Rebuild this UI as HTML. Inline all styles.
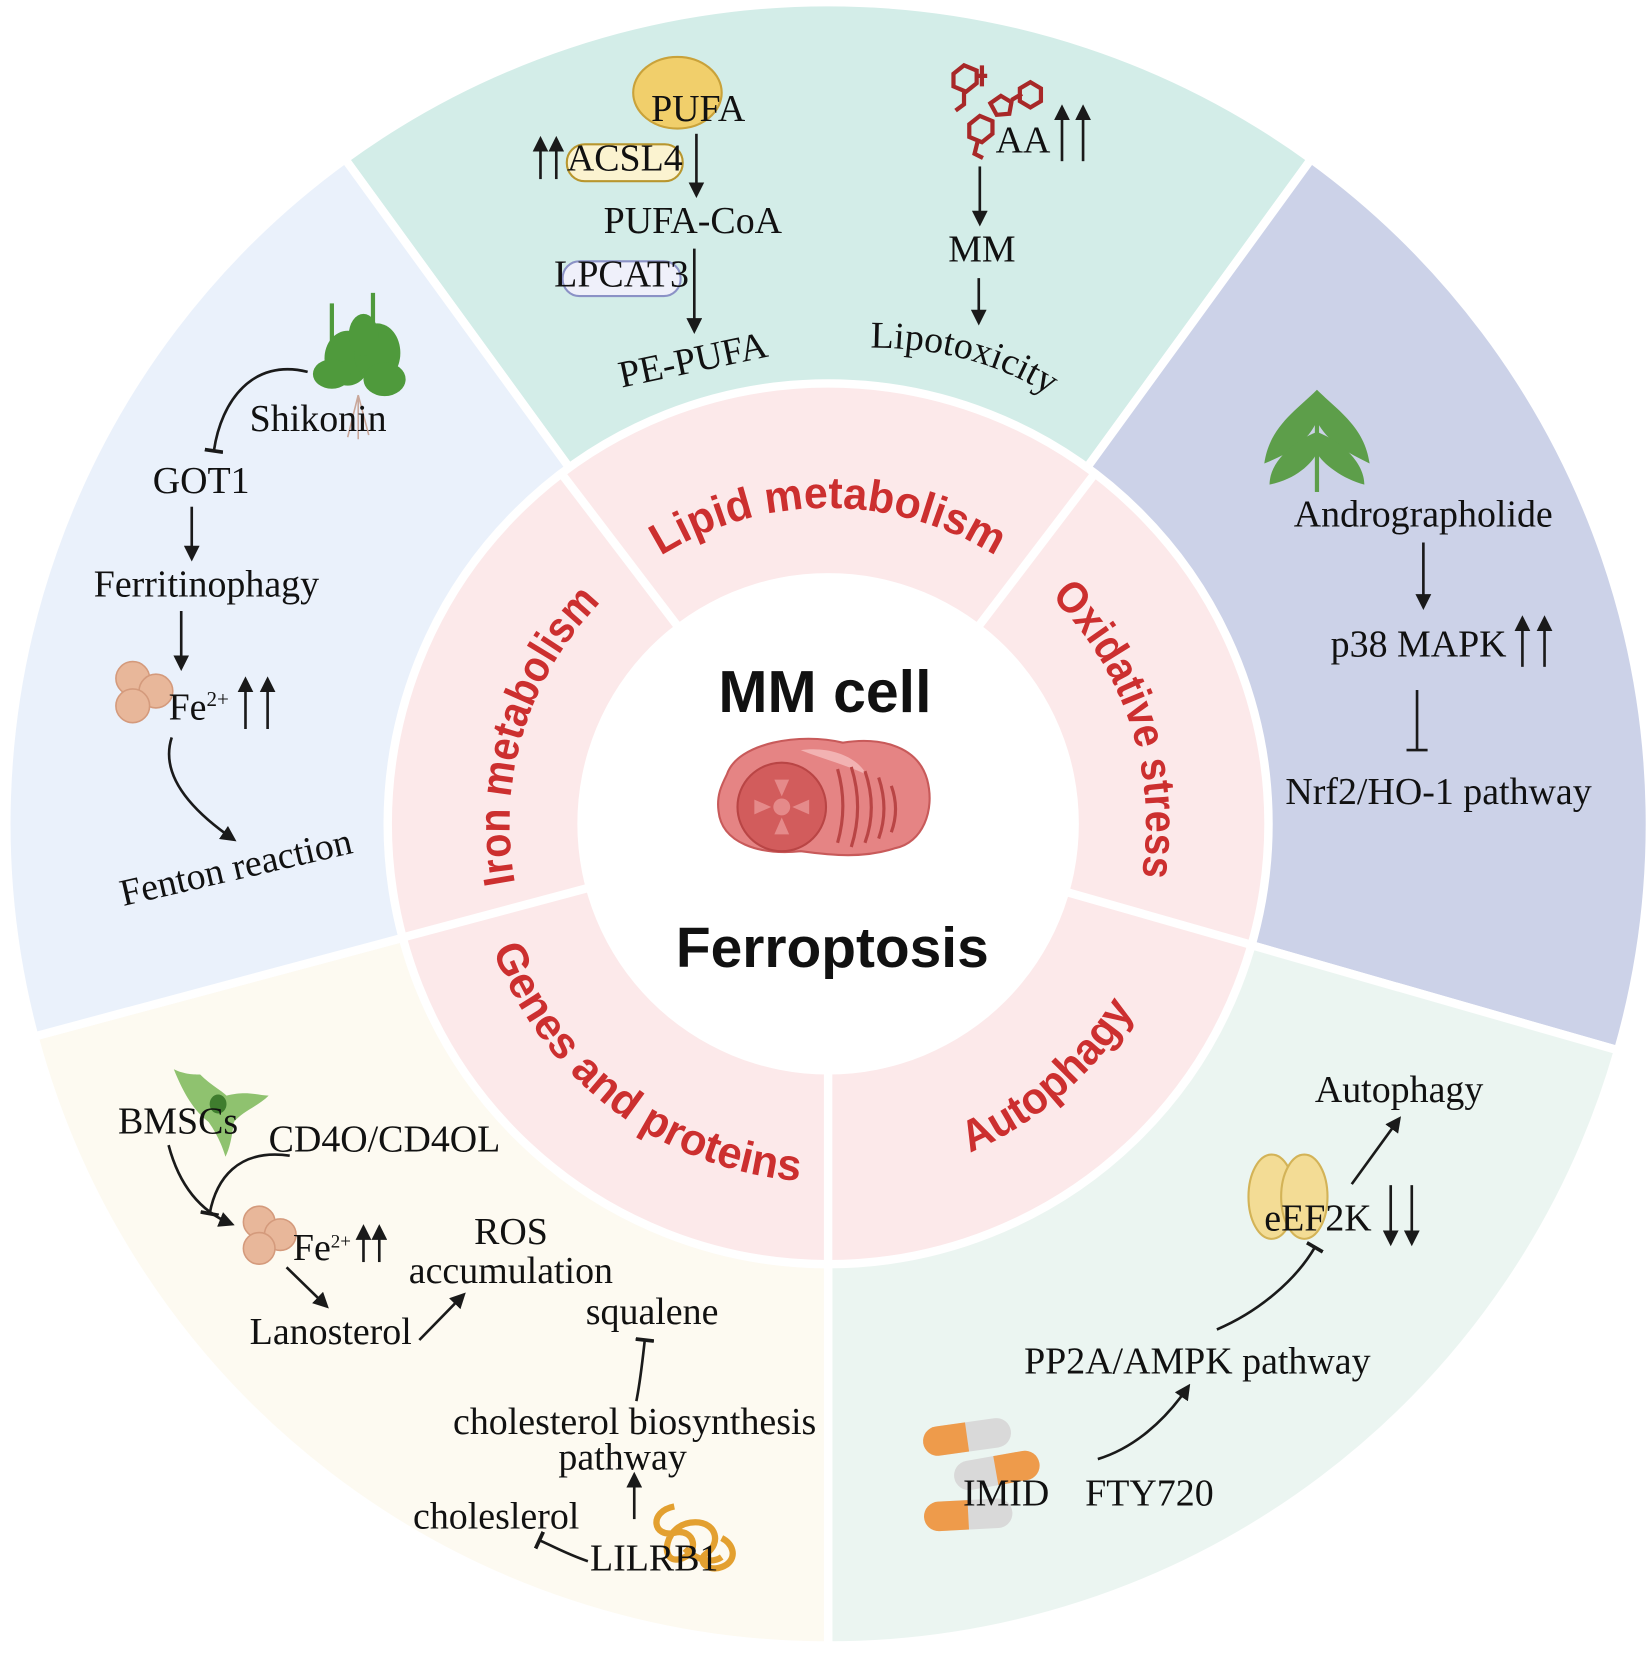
<!DOCTYPE html>
<html><head><meta charset="utf-8"><style>
html,body{margin:0;padding:0;background:#fff;}
svg{display:block;}
.t{font-family:"Liberation Serif",serif;fill:#111;font-size:36px;}
.r{font-family:"Liberation Sans",sans-serif;font-weight:bold;fill:#cc2f2f;font-size:42px;}
.c{font-family:"Liberation Sans",sans-serif;font-weight:bold;fill:#111;}
.ln{stroke:#1a1a1a;stroke-width:2.5;fill:none;}
</style></head><body>
<svg width="1652" height="1655" viewBox="0 0 1568 1571" preserveAspectRatio="none" xmlns="http://www.w3.org/2000/svg">
<defs>
<marker id="a" viewBox="0 0 10 10" refX="8" refY="5" markerWidth="6" markerHeight="6" orient="auto"><path d="M0,0 L10,5 L0,10 z" fill="#1a1a1a"/></marker>
<marker id="b" viewBox="0 0 10 10" refX="5" refY="5" markerWidth="7" markerHeight="7" orient="auto"><path d="M5,0 L5,10" stroke="#1a1a1a" stroke-width="2"/></marker>
<path id="pLipid" d="M490.6,729.9 A300,300 0 0 1 1081.4,729.9"/>
<path id="pOx" d="M744,483 A302,302 0 0 1 927.8,1048.6"/>
<path id="pIron" d="M640,1046 A300,300 0 0 1 812,484"/>
<path id="pGenes" d="M483.1,627.6 A340,340 0 0 0 1017.9,1030.7"/>
<path id="pAuto" d="M572,1046.2 A340,340 0 0 0 1077.4,606.9"/>
<path id="pLipo" d="M826,330 Q935,330 1010,385"/>
</defs>
<g stroke="#fff" stroke-width="8">
<path d="M786,782 L327.5,151 A780,780 0 0 1 1244.5,151 Z" fill="#d3ede8"/>
<path d="M786,782 L1244.5,151 A780,780 0 0 1 1535.8,997 Z" fill="#ccd2e8"/>
<path d="M786,782 L1535.8,997 A780,780 0 0 1 786,1562 Z" fill="#ebf5f1"/>
<path d="M786,782 L786,1562 A780,780 0 0 1 32.6,983.9 Z" fill="#fdfaf1"/>
<path d="M786,782 L32.6,983.9 A780,780 0 0 1 327.5,151 Z" fill="#eaf1fb"/>
</g>
<circle cx="786" cy="782" r="418" fill="#fce9ea" stroke="#fff" stroke-width="8"/>
<g stroke="#fff" stroke-width="8">
<line x1="786" y1="782" x2="531" y2="447"/>
<line x1="786" y1="782" x2="1041" y2="447"/>
<line x1="786" y1="782" x2="1188" y2="897"/>
<line x1="786" y1="782" x2="786" y2="1200"/>
<line x1="786" y1="782" x2="382" y2="890"/>
</g>
<circle cx="786" cy="782" r="238" fill="#fff"/>
<text class="r"><textPath href="#pLipid" startOffset="50%" text-anchor="middle" textLength="335" lengthAdjust="spacingAndGlyphs">Lipid metabolism</textPath></text>
<text class="r"><textPath href="#pOx" startOffset="50%" text-anchor="middle" textLength="290" lengthAdjust="spacingAndGlyphs">Oxidative stress</textPath></text>
<text class="r"><textPath href="#pIron" startOffset="50%" text-anchor="middle" textLength="290" lengthAdjust="spacingAndGlyphs">Iron metabolism</textPath></text>
<text class="r"><textPath href="#pGenes" startOffset="50%" text-anchor="middle" textLength="385" lengthAdjust="spacingAndGlyphs">Genes and proteins</textPath></text>
<text class="r"><textPath href="#pAuto" startOffset="50%" text-anchor="middle" textLength="210" lengthAdjust="spacingAndGlyphs">Autophagy</textPath></text>
<text class="c" x="783" y="676" font-size="56" text-anchor="middle">MM cell</text>
<text class="c" x="790" y="918" font-size="54" text-anchor="middle">Ferroptosis</text>
<path d="M690,735 C700,705 760,695 800,705 C830,700 870,705 880,740 C888,770 875,800 850,805 C820,815 790,812 760,808 C720,812 685,800 682,770 C680,755 685,745 690,735 Z" fill="#e58484" stroke="#c85a5a" stroke-width="2"/>
<path d="M760,712 C790,708 815,720 822,735 C800,725 780,720 760,712Z" fill="#f2b2b2"/>
<circle cx="742" cy="766" r="42" fill="#d25c5c" stroke="#b94545" stroke-width="2"/>
<g fill="#e58a8a"><circle cx="742" cy="766" r="8"/><path d="M735,740 l14,0 l-7,16z"/><path d="M735,792 l14,0 l-7,-16z"/><path d="M716,759 l0,14 l16,-7z"/><path d="M768,759 l0,14 l-16,-7z"/></g>
<g stroke="#b94545" stroke-width="3" fill="none"><path d="M795,730 q10,35 0,70"/><path d="M808,728 q12,38 0,76"/><path d="M821,732 q12,35 0,68"/><path d="M834,738 q10,30 0,58"/><path d="M846,746 q8,22 0,44"/></g>

<ellipse cx="643" cy="88" rx="42" ry="34" fill="#f1cf6b" stroke="#c9a23a" stroke-width="2"/>
<text class="t" x="618" y="115" font-size="35">PUFA</text>
<line class="ln" x1="513" y1="170" x2="513" y2="132" marker-end="url(#a)"/>
<line class="ln" x1="528" y1="170" x2="528" y2="132" marker-end="url(#a)"/>
<rect x="538" y="137" width="110" height="35" rx="17" fill="#fbf3d0" stroke="#b8962e" stroke-width="2"/>
<text class="t" x="593" y="162" font-size="21" text-anchor="middle">ACSL4</text>
<line class="ln" x1="661" y1="127" x2="661" y2="185" marker-end="url(#a)"/>
<text class="t" x="573" y="221" font-size="35">PUFA-CoA</text>
<rect x="534" y="248" width="112" height="33" rx="16" fill="#eff0fa" stroke="#8b92c6" stroke-width="2"/>
<text class="t" x="590" y="272" font-size="21" text-anchor="middle">LPCAT3</text>
<line class="ln" x1="659" y1="236" x2="659" y2="314" marker-end="url(#a)"/>
<text class="t" x="590" y="368" font-size="36" transform="rotate(-12 590 368)">PE-PUFA</text>
<g stroke="#a82828" stroke-width="4" fill="none">
<path d="M905,70 l10,-8 l12,5 l0,12 l-10,8 l-12,-5z M927,72 l10,0 M932,62 l0,20 M915,87 l0,12 l-8,6"/>
<path d="M940,98 l10,-7 l10,6 l-2,11 l-12,1z M960,95 l10,-6 M968,84 l10,-6 l10,6 l0,12 l-10,6 l-10,-6z"/>
<path d="M920,118 l10,-8 l12,5 l0,12 l-10,8 l-12,-5z M928,134 l-3,12 l8,4"/>
</g>
<text class="t" x="945" y="145" font-size="35">AA</text>
<line class="ln" x1="1008" y1="153" x2="1008" y2="102" marker-end="url(#a)"/>
<line class="ln" x1="1028" y1="153" x2="1028" y2="102" marker-end="url(#a)"/>
<line class="ln" x1="930" y1="158" x2="930" y2="212" marker-end="url(#a)"/>
<text class="t" x="900" y="248" font-size="35">MM</text>
<line class="ln" x1="929" y1="264" x2="929" y2="306" marker-end="url(#a)"/>
<text class="t" font-size="36"><textPath href="#pLipo">Lipotoxicity</textPath></text>

<g fill="#4f9a3c">
<rect x="313" y="288" width="4" height="70"/><rect x="352" y="278" width="4" height="80"/>
<ellipse cx="330" cy="340" rx="22" ry="26"/><ellipse cx="358" cy="335" rx="22" ry="28"/><ellipse cx="315" cy="355" rx="18" ry="14"/><ellipse cx="365" cy="360" rx="20" ry="16"/><ellipse cx="345" cy="318" rx="14" ry="20"/>
</g>
<path d="M340,375 l-10,40 M340,375 l0,42 M340,375 l10,38" stroke="#c9a79a" stroke-width="1.5"/>
<path class="ln" d="M292,353 C240,340 210,380 203,428" marker-end="url(#b)"/>
<text class="t" x="237" y="409" font-size="35">Shikonin</text>
<text class="t" x="145" y="468" font-size="35">GOT1</text>
<line class="ln" x1="182" y1="481" x2="182" y2="530" marker-end="url(#a)"/>
<text class="t" x="89" y="566" font-size="35">Ferritinophagy</text>
<line class="ln" x1="172" y1="580" x2="172" y2="634" marker-end="url(#a)"/>
<g fill="#e8b79a" stroke="#d49a7c" stroke-width="1.5"><circle cx="126" cy="644" r="16"/><circle cx="148" cy="656" r="16"/><circle cx="126" cy="670" r="16"/></g>
<text class="t" x="160" y="683" font-size="35">Fe<tspan font-size="20" dy="-13">2+</tspan></text>
<line class="ln" x1="233" y1="692" x2="233" y2="645" marker-end="url(#a)"/>
<line class="ln" x1="254" y1="692" x2="254" y2="645" marker-end="url(#a)"/>
<path class="ln" d="M163,700 C150,740 190,775 222,797" marker-end="url(#a)"/>
<text class="t" x="117" y="860" font-size="36" transform="rotate(-13 117 860)">Fenton reaction</text>

<g fill="#5d9e4a">
<rect x="1248" y="372" width="4" height="95"/>
<path d="M1250,370 C1230,390 1205,405 1200,440 C1225,430 1240,420 1250,400 C1260,420 1280,430 1300,440 C1295,405 1270,390 1250,370Z"/>
<path d="M1250,410 C1225,420 1205,440 1205,460 C1230,455 1245,440 1250,430 C1255,440 1275,455 1295,460 C1295,440 1275,420 1250,410Z"/>
</g>
<text class="t" x="1228" y="500" font-size="36">Andrographolide</text>
<line class="ln" x1="1351" y1="515" x2="1351" y2="576" marker-end="url(#a)"/>
<text class="t" x="1263" y="623" font-size="34">p38 MAPK</text>
<line class="ln" x1="1445" y1="633" x2="1445" y2="587" marker-end="url(#a)"/>
<line class="ln" x1="1466" y1="633" x2="1466" y2="587" marker-end="url(#a)"/>
<line class="ln" x1="1345" y1="655" x2="1345" y2="712"/>
<line class="ln" x1="1335" y1="712" x2="1355" y2="712"/>
<text class="t" x="1220" y="763" font-size="35">Nrf2/HO-1 pathway</text>

<text class="t" x="1248" y="1046" font-size="36">Autophagy</text>
<line class="ln" x1="1283" y1="1124" x2="1328" y2="1062" marker-end="url(#a)"/>
<ellipse cx="1207" cy="1136" rx="22" ry="40" fill="#f3dc95" stroke="#d3b357" stroke-width="2"/>
<ellipse cx="1238" cy="1136" rx="22" ry="40" fill="#f3dc95" stroke="#d3b357" stroke-width="2"/>
<text class="t" x="1200" y="1168" font-size="34">eEF2K</text>
<line class="ln" x1="1320" y1="1125" x2="1320" y2="1180" marker-end="url(#a)"/>
<line class="ln" x1="1340" y1="1125" x2="1340" y2="1180" marker-end="url(#a)"/>
<path class="ln" d="M1155,1262 C1195,1245 1230,1215 1248,1184" marker-end="url(#b)"/>
<text class="t" x="972" y="1304" font-size="35">PP2A/AMPK pathway</text>
<path class="ln" d="M1042,1385 C1075,1375 1105,1350 1128,1316" marker-end="url(#a)"/>
<g transform="rotate(-8 918 1365)"><rect x="876" y="1350" width="84" height="28" rx="14" fill="#d9d9d9"/><path d="M890,1350 h28 v28 h-28 a14,14 0 0 1 0,-28z" fill="#ee9b4b"/></g>
<g transform="rotate(-10 945 1395)"><rect x="905" y="1382" width="82" height="28" rx="14" fill="#d9d9d9"/><path d="M945,1382 h28 a14,14 0 0 1 0,28 h-28z" fill="#ee9b4b"/></g>
<g transform="rotate(-3 918 1438)"><rect x="877" y="1424" width="84" height="28" rx="14" fill="#d9d9d9"/><path d="M891,1424 h28 v28 h-28 a14,14 0 0 1 0,-28z" fill="#ee9b4b"/></g>
<text class="t" x="914" y="1429" font-size="35">IMID</text>
<text class="t" x="1030" y="1429" font-size="35">FTY720</text>

<g fill="#8fc26f">
<path d="M190,1020 C200,1030 210,1035 215,1040 C235,1035 245,1040 255,1040 C245,1050 230,1055 222,1065 C220,1080 218,1090 214,1098 C210,1085 205,1075 198,1065 C185,1055 175,1040 165,1015 C175,1020 185,1020 190,1020Z"/>
</g>
<ellipse cx="207" cy="1048" rx="8" ry="9" fill="#3f7d2e"/>
<text class="t" x="112" y="1076" font-size="35">BMSCs</text>
<text class="t" x="255" y="1093" font-size="27">CD4O/CD4OL</text>
<path class="ln" d="M160,1087 C170,1125 190,1150 220,1162" marker-end="url(#a)"/>
<path class="ln" d="M275,1097 C225,1090 205,1120 199,1152" marker-end="url(#b)"/>
<g fill="#e8b79a" stroke="#d49a7c" stroke-width="1.5"><circle cx="246" cy="1160" r="15"/><circle cx="266" cy="1172" r="15"/><circle cx="246" cy="1185" r="15"/></g>
<text class="t" x="278" y="1196" font-size="31">Fe<tspan font-size="18" dy="-12">2+</tspan></text>
<line class="ln" x1="345" y1="1198" x2="345" y2="1165" marker-end="url(#a)"/>
<line class="ln" x1="360" y1="1198" x2="360" y2="1165" marker-end="url(#a)"/>
<line class="ln" x1="272" y1="1203" x2="310" y2="1240" marker-end="url(#a)"/>
<text class="t" x="237" y="1276" font-size="35">Lanosterol</text>
<line class="ln" x1="398" y1="1272" x2="440" y2="1229" marker-end="url(#a)"/>
<text class="t" x="450" y="1181" font-size="33">ROS</text>
<text class="t" x="388" y="1218" font-size="33">accumulation</text>
<text class="t" x="556" y="1257" font-size="32">squalene</text>
<path class="ln" d="M604,1330 C608,1310 610,1290 612,1272" marker-end="url(#b)"/>
<text class="t" x="430" y="1361" font-size="29">cholesterol biosynthesis</text>
<text class="t" x="530" y="1395" font-size="29">pathway</text>
<line class="ln" x1="602" y1="1442" x2="602" y2="1400" marker-end="url(#a)"/>
<text class="t" x="392" y="1451" font-size="30">choleslerol</text>
<path class="ln" d="M558,1482 C540,1476 525,1468 512,1462" marker-end="url(#b)"/>
<path d="M640,1430 c-25,5 -20,30 0,25 c20,-5 25,20 5,25 c-20,5 -15,-35 15,-35 c20,0 25,20 10,30 c-10,8 5,20 20,10 c10,-8 5,-20 -5,-25 M650,1470 c10,10 25,15 35,8" stroke="#e3a030" stroke-width="6" fill="none"/>
<text class="t" x="560" y="1491" font-size="32">LILRB1</text>
</svg>
</body></html>
